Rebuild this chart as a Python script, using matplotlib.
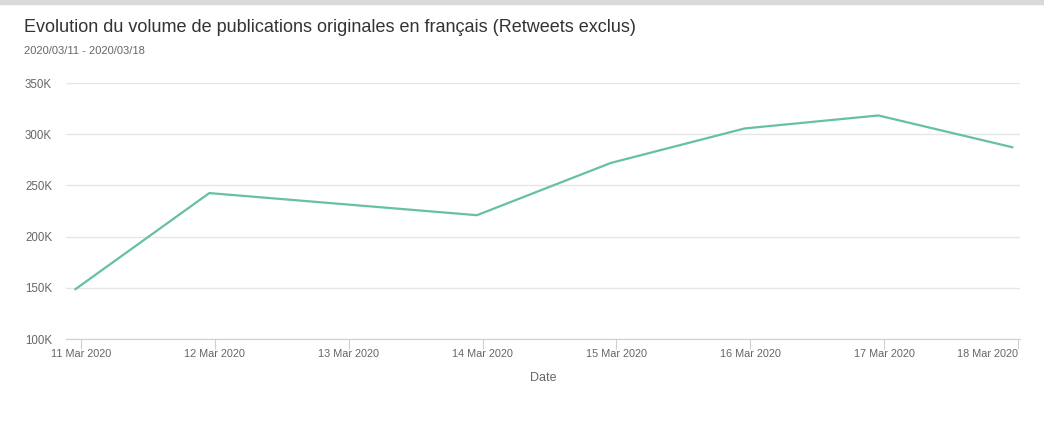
import numpy as np
import pandas as pd
import matplotlib
matplotlib.use("Agg")
import matplotlib.pyplot as plt
import matplotlib.dates as mdates
from matplotlib.patches import Rectangle

plt.rcParams['font.family'] = ['Liberation Sans', 'DejaVu Sans']

# data
dates = pd.to_datetime(['2020-03-10 23:00', '2020-03-11 23:00', '2020-03-13 23:00',
                        '2020-03-14 23:00', '2020-03-15 23:00', '2020-03-16 23:00',
                        '2020-03-17 23:00'])
volumes = [148700, 242500, 220900, 271900, 305600, 318300, 287300]
tick_days = pd.date_range('2020-03-11', '2020-03-18', freq='D')
tick_labels = [d.strftime('%-d Mar %Y') for d in tick_days]
y_ticks = [100000, 150000, 200000, 250000, 300000, 350000]

title = "Evolution du volume de publications originales en français (Retweets exclus)"
subtitle = "2020/03/11 - 2020/03/18"

fig = plt.figure(figsize=(10.44, 4.32), dpi=100)
fig.patches.append(Rectangle((0, 1 - 4/432), 1, 4/432, transform=fig.transFigure,
                             color='#d9d9d9', zorder=0))
ax = fig.add_axes([66/1044, 1 - 339/432, (1020 - 66)/1044, (339 - 83)/432])

ax.plot(dates, volumes, color='#66bfa6', lw=1.6, solid_joinstyle='round')

ax.set_ylim(100000, 350000)
ax.set_yticks(y_ticks)
ax.set_yticklabels([f"{int(v/1000)}K" for v in y_ticks])
ax.set_xlim(tick_days[0] - pd.Timedelta(hours=2.7), tick_days[-1] + pd.Timedelta(hours=0.4))
ax.set_xticks(tick_days)
ax.set_xticklabels(tick_labels)
ax.get_xticklabels()[-1].set_ha('right')

ax.grid(axis='y', color='#e6e6e6', lw=1)
ax.set_axisbelow(True)
for s in ['top', 'right', 'left']:
    ax.spines[s].set_visible(False)
ax.spines['bottom'].set_color('#d0d0d0')
ax.tick_params(axis='y', length=0, pad=10, labelsize=8.3, labelcolor='#666666')
ax.tick_params(axis='x', length=7.5, direction='out', color='#d0d0d0', pad=0,
               labelsize=7.8, labelcolor='#666666')
ax.set_xlabel('Date', fontsize=9, color='#666666', labelpad=9)

fig.text(24/1044, 1 - 27/432, title, fontsize=13, color='#333333', va='center')
fig.text(24/1044, 1 - 51/432, subtitle, fontsize=8, color='#666666', va='center')

fig.savefig('out.png', dpi=100, facecolor='white')
